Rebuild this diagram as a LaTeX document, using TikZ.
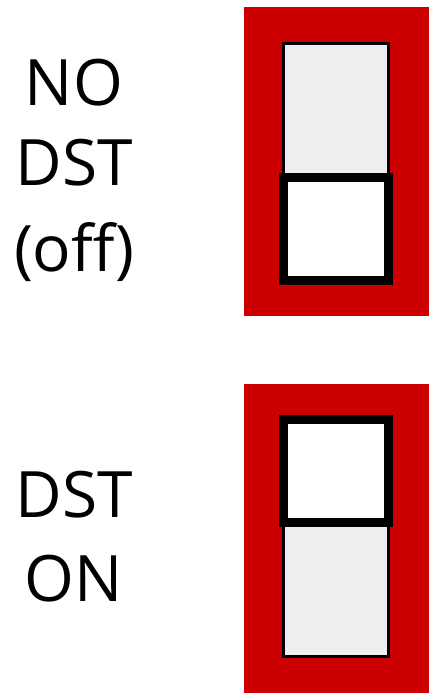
\documentclass[tikz,border=0pt]{standalone}
\usepackage{fontspec}
\setmainfont{Open Sans}
\usepackage{tikz}

\definecolor{caseRed}{RGB}{204,0,0}
\definecolor{trackGray}{RGB}{238,238,238}

\begin{document}
\begin{tikzpicture}
    [x=1pt,y=-1pt,
     casing/.style={rectangle,fill=caseRed,inner sep=0,outer sep=0,
       minimum width=185pt,minimum height=309pt},
     track/.style={rectangle,draw=black,line width=3pt,fill=trackGray,inner sep=0,
       minimum width=105pt,minimum height=237pt},
     knob/.style={rectangle,draw=black,line width=9pt,fill=white,inner sep=0,
       minimum width=105pt,minimum height=103pt},
     label/.style={align=center,anchor=north,inner sep=0,
       font=\fontsize{64}{80}\selectfont}]

    \useasboundingbox (0,0) rectangle (432,700);

    % switch off
    \node[casing] (caseoff) at (336.5,161.5) {};
    \node[track] (trackoff) at (336,162) {};
    \node[knob] (knoboff) at (336,229) {};
    \node[label] (textoff) at (74,59) {NO\\DST\\[6pt](off)};

    % switch on
    \node[casing] (caseon) at (336.5,538.5) {};
    \node[track] (trackon) at (336,538) {};
    \node[knob] (knobon) at (336,471) {};
    \node[label] (texton) at (74,471) {DST\\[4pt]ON};
\end{tikzpicture}
\end{document}
